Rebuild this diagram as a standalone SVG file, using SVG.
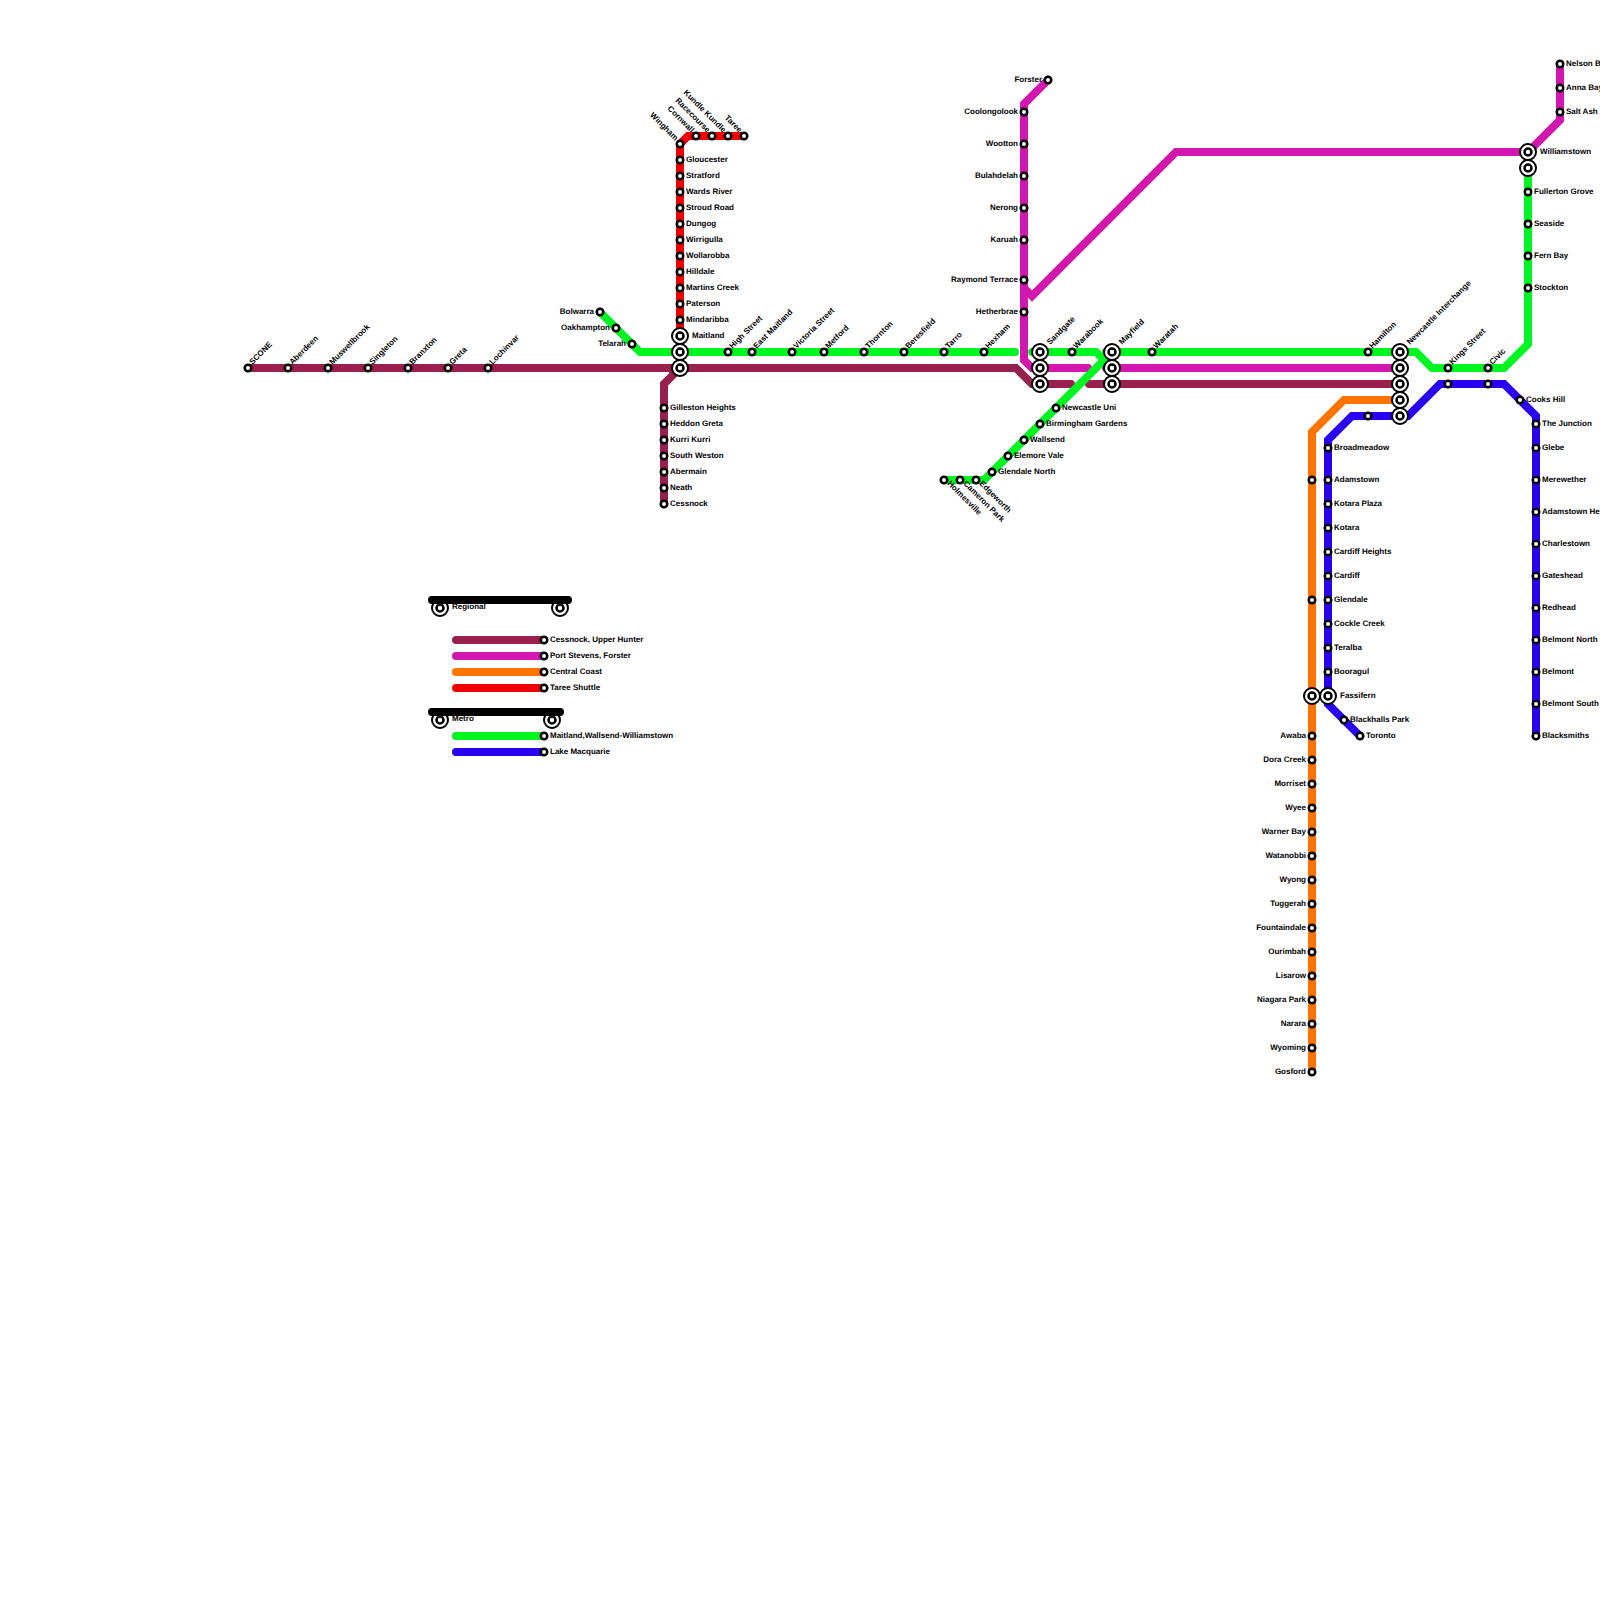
<svg xmlns="http://www.w3.org/2000/svg" width="1600" height="1600" viewBox="0 0 1600 1600">
<style>
text{font-family:"Liberation Sans",Arial,sans-serif;font-size:8px;font-weight:700;fill:#000;text-rendering:geometricPrecision}
.e{text-anchor:end}
.ln{fill:none;stroke-width:8;stroke-linejoin:miter;stroke-linecap:round}
.ma{stroke:#96214e}.mg{stroke:#d117ad}.or{stroke:#ff7300}.rd{stroke:#f00000}.gr{stroke:#00f522}.bl{stroke:#2a00f0}.bk{stroke:#000}
.o{fill:#fff;stroke:#000;stroke-width:2.5}
.c{fill:#fff;stroke:#000;stroke-width:2}
</style>
<defs>
<g id="s"><circle class="o" r="3.25"/></g>
<g id="x"><circle class="c" r="8"/><circle class="o" r="3.5"/></g>
</defs>
<rect width="1600" height="1600" fill="#fff"/>
<g id="connectors">
<path class="ln rd" d="M680 330V144L688 136H744"/>
<path class="ln ma" d="M248 368H1016L1032 384H1071"/>
<path class="ln ma" d="M1089 384H1400"/>
<path class="ln ma" d="M664 504V384L675 373L670 368"/>
<path class="ln gr" d="M600 312L640 352H1015"/>
<path class="ln mg" d="M1048 80L1024 104V360L1032 368H1088"/>
<path class="ln mg" d="M1106 368H1400"/>
<path class="ln mg" d="M1024 288L1032 296L1176 152H1528L1560 120V64"/>
<path class="ln gr" d="M1032 352H1096L1104 360L984 480H944"/>
<path class="ln gr" d="M1106 352H1416L1432 368H1504L1528 344V168"/>
<path class="ln or" d="M1400 400H1344L1312 432V1072"/>
<path class="ln bl" d="M1400 416H1352L1328 440V704L1360 736"/>
<path class="ln bl" d="M1400 416H1408L1440 384H1504L1536 416V736"/>
</g>
<g id="legend">
<path class="ln ma" d="M456 640H544"/><path class="ln mg" d="M456 656H544"/><path class="ln or" d="M456 672H544"/><path class="ln rd" d="M456 688H544"/><path class="ln gr" d="M456 736H544"/><path class="ln bl" d="M456 752H544"/>
<g id="legend-regional"><use href="#x" x="440" y="608"/><use href="#x" x="560" y="608"/><path class="ln bk" d="M432 600H568"/><text x="452" y="609">Regional</text></g>
<g id="legend-metro"><use href="#x" x="440" y="720"/><use href="#x" x="552" y="720"/><path class="ln bk" d="M432 712H560"/><text x="452" y="721">Metro</text></g>
<g id="legend-cessnock"><use href="#s" x="544" y="640"/><text x="550" y="642">Cessnock, Upper Hunter</text></g>
<g id="legend-port"><use href="#s" x="544" y="656"/><text x="550" y="658">Port Stevens, Forster</text></g>
<g id="legend-central"><use href="#s" x="544" y="672"/><text x="550" y="674">Central Coast</text></g>
<g id="legend-taree"><use href="#s" x="544" y="688"/><text x="550" y="690">Taree Shuttle</text></g>
<g id="legend-maitland"><use href="#s" x="544" y="736"/><text x="550" y="738">Maitland,Wallsend-Williamstown</text></g>
<g id="legend-lake"><use href="#s" x="544" y="752"/><text x="550" y="754">Lake Macquarie</text></g>
</g>
<g id="stations">
<g id="scone"><use href="#s" x="248" y="368"/><text transform="translate(252.5 365) rotate(-45)">SCONE</text></g>
<g id="aberdeen"><use href="#s" x="288" y="368"/><text transform="translate(292.5 365) rotate(-45)">Aberdeen</text></g>
<g id="muswellbrook"><use href="#s" x="328" y="368"/><text transform="translate(332.5 365) rotate(-45)">Muswellbrook</text></g>
<g id="singleton"><use href="#s" x="368" y="368"/><text transform="translate(372.5 365) rotate(-45)">Singleton</text></g>
<g id="branxton"><use href="#s" x="408" y="368"/><text transform="translate(412.5 365) rotate(-45)">Branxton</text></g>
<g id="greta"><use href="#s" x="448" y="368"/><text transform="translate(452.5 365) rotate(-45)">Greta</text></g>
<g id="lochinvar"><use href="#s" x="488" y="368"/><text transform="translate(492.5 365) rotate(-45)">Lochinvar</text></g>

<g id="gilleston"><use href="#s" x="664" y="408"/><text x="670" y="410">Gilleston Heights</text></g>
<g id="heddon"><use href="#s" x="664" y="424"/><text x="670" y="426">Heddon Greta</text></g>
<g id="kurri"><use href="#s" x="664" y="440"/><text x="670" y="442">Kurri Kurri</text></g>
<g id="southweston"><use href="#s" x="664" y="456"/><text x="670" y="458">South Weston</text></g>
<g id="abermain"><use href="#s" x="664" y="472"/><text x="670" y="474">Abermain</text></g>
<g id="neath"><use href="#s" x="664" y="488"/><text x="670" y="490">Neath</text></g>
<g id="cessnock"><use href="#s" x="664" y="504"/><text x="670" y="506">Cessnock</text></g>

<g id="bolwarra"><use href="#s" x="600" y="312"/><text class="e" x="594" y="314">Bolwarra</text></g>
<g id="oakhampton"><use href="#s" x="616" y="328"/><text class="e" x="610" y="330">Oakhampton</text></g>
<g id="telarah"><use href="#s" x="632" y="344"/><text class="e" x="626" y="346">Telarah</text></g>

<g id="wingham"><use href="#s" x="680" y="144"/><text class="e" transform="translate(675 141) rotate(45)">Wingham</text></g>
<g id="cornwall"><use href="#s" x="696" y="136"/><text class="e" transform="translate(691 133) rotate(45)">Cornwall</text></g>
<g id="racecourse"><use href="#s" x="712" y="136"/><text class="e" transform="translate(707 133) rotate(45)">Racecourse</text></g>
<g id="kundle"><use href="#s" x="728" y="136"/><text class="e" transform="translate(723 133) rotate(45)">Kundle Kundle</text></g>
<g id="taree"><use href="#s" x="744" y="136"/><text class="e" transform="translate(739 133) rotate(45)">Taree</text></g>
<g id="gloucester"><use href="#s" x="680" y="160"/><text x="686" y="162">Gloucester</text></g>
<g id="stratford"><use href="#s" x="680" y="176"/><text x="686" y="178">Stratford</text></g>
<g id="wardsriver"><use href="#s" x="680" y="192"/><text x="686" y="194">Wards River</text></g>
<g id="stroudroad"><use href="#s" x="680" y="208"/><text x="686" y="210">Stroud Road</text></g>
<g id="dungog"><use href="#s" x="680" y="224"/><text x="686" y="226">Dungog</text></g>
<g id="wirrigulla"><use href="#s" x="680" y="240"/><text x="686" y="242">Wirrigulla</text></g>
<g id="wollarobba"><use href="#s" x="680" y="256"/><text x="686" y="258">Wollarobba</text></g>
<g id="hilldale"><use href="#s" x="680" y="272"/><text x="686" y="274">Hilldale</text></g>
<g id="martins"><use href="#s" x="680" y="288"/><text x="686" y="290">Martins Creek</text></g>
<g id="paterson"><use href="#s" x="680" y="304"/><text x="686" y="306">Paterson</text></g>
<g id="mindaribba"><use href="#s" x="680" y="320"/><text x="686" y="322">Mindaribba</text></g>
<g id="maitland"><use href="#x" x="680" y="336"/><use href="#x" x="680" y="352"/><use href="#x" x="680" y="368"/><text x="692" y="338">Maitland</text></g>

<g id="highstreet"><use href="#s" x="728" y="352"/><text transform="translate(732.5 349) rotate(-45)">High Street</text></g>
<g id="eastmaitland"><use href="#s" x="752" y="352"/><text transform="translate(756.5 349) rotate(-45)">East Maitland</text></g>
<g id="victoria"><use href="#s" x="792" y="352"/><text transform="translate(796.5 349) rotate(-45)">Victoria Street</text></g>
<g id="metford"><use href="#s" x="824" y="352"/><text transform="translate(828.5 349) rotate(-45)">Metford</text></g>
<g id="thornton"><use href="#s" x="864" y="352"/><text transform="translate(868.5 349) rotate(-45)">Thornton</text></g>
<g id="beresfield"><use href="#s" x="904" y="352"/><text transform="translate(908.5 349) rotate(-45)">Beresfield</text></g>
<g id="tarro"><use href="#s" x="944" y="352"/><text transform="translate(948.5 349) rotate(-45)">Tarro</text></g>
<g id="hexham"><use href="#s" x="984" y="352"/><text transform="translate(988.5 349) rotate(-45)">Hexham</text></g>

<g id="forster"><use href="#s" x="1048" y="80"/><text class="e" x="1042" y="82">Forster</text></g>
<g id="coolongolook"><use href="#s" x="1024" y="112"/><text class="e" x="1018" y="114">Coolongolook</text></g>
<g id="wootton"><use href="#s" x="1024" y="144"/><text class="e" x="1018" y="146">Wootton</text></g>
<g id="bulahdelah"><use href="#s" x="1024" y="176"/><text class="e" x="1018" y="178">Bulahdelah</text></g>
<g id="nerong"><use href="#s" x="1024" y="208"/><text class="e" x="1018" y="210">Nerong</text></g>
<g id="karuah"><use href="#s" x="1024" y="240"/><text class="e" x="1018" y="242">Karuah</text></g>
<g id="raymond"><use href="#s" x="1024" y="280"/><text class="e" x="1018" y="282">Raymond Terrace</text></g>
<g id="hetherbrae"><use href="#s" x="1024" y="312"/><text class="e" x="1018" y="314">Hetherbrae</text></g>

<g id="sandgate"><use href="#x" x="1040" y="352"/><use href="#x" x="1040" y="368"/><use href="#x" x="1040" y="384"/><text transform="translate(1050 345) rotate(-45)">Sandgate</text></g>
<g id="warabook"><use href="#s" x="1072" y="352"/><text transform="translate(1076.5 349) rotate(-45)">Warabook</text></g>
<g id="mayfield"><use href="#x" x="1112" y="352"/><use href="#x" x="1112" y="368"/><use href="#x" x="1112" y="384"/><text transform="translate(1122 345) rotate(-45)">Mayfield</text></g>
<g id="waratah"><use href="#s" x="1152" y="352"/><text transform="translate(1156.5 349) rotate(-45)">Waratah</text></g>
<g id="newcastleuni"><use href="#s" x="1056" y="408"/><text x="1062" y="410">Newcastle Uni</text></g>
<g id="birmingham"><use href="#s" x="1040" y="424"/><text x="1046" y="426">Birmingham Gardens</text></g>
<g id="wallsend"><use href="#s" x="1024" y="440"/><text x="1030" y="442">Wallsend</text></g>
<g id="elemore"><use href="#s" x="1008" y="456"/><text x="1014" y="458">Elemore Vale</text></g>
<g id="glendalenorth"><use href="#s" x="992" y="472"/><text x="998" y="474">Glendale North</text></g>
<g id="holmesville"><use href="#s" x="944" y="480"/><text transform="translate(947 484) rotate(45)">Holmesville</text></g>
<g id="cameron"><use href="#s" x="960" y="480"/><text transform="translate(963 484) rotate(45)">Cameron Park</text></g>
<g id="edgeworth"><use href="#s" x="976" y="480"/><text transform="translate(979 484) rotate(45)">Edgeworth</text></g>

<g id="hamilton"><use href="#s" x="1368" y="352"/><text transform="translate(1372.5 349) rotate(-45)">Hamilton</text></g>
<g id="newcastle"><use href="#x" x="1400" y="352"/><use href="#x" x="1400" y="368"/><use href="#x" x="1400" y="384"/><use href="#x" x="1400" y="400"/><use href="#x" x="1400" y="416"/><text transform="translate(1410 345) rotate(-45)">Newcastle Interchange</text></g>
<g id="unnamed-1"><use href="#s" x="1368" y="416"/></g>
<g id="kings"><use href="#s" x="1448" y="368"/><use href="#s" x="1448" y="384"/><text transform="translate(1452.5 365) rotate(-45)">Kings Street</text></g>
<g id="civic"><use href="#s" x="1488" y="368"/><use href="#s" x="1488" y="384"/><text transform="translate(1492.5 365) rotate(-45)">Civic</text></g>

<g id="williamstown"><use href="#x" x="1528" y="152"/><use href="#x" x="1528" y="168"/><text x="1540" y="154">Williamstown</text></g>
<g id="nelson"><use href="#s" x="1560" y="64"/><text x="1566" y="66">Nelson Bay</text></g>
<g id="annabay"><use href="#s" x="1560" y="88"/><text x="1566" y="90">Anna Bay</text></g>
<g id="saltash"><use href="#s" x="1560" y="112"/><text x="1566" y="114">Salt Ash</text></g>
<g id="fullerton"><use href="#s" x="1528" y="192"/><text x="1534" y="194">Fullerton Grove</text></g>
<g id="seaside"><use href="#s" x="1528" y="224"/><text x="1534" y="226">Seaside</text></g>
<g id="fernbay"><use href="#s" x="1528" y="256"/><text x="1534" y="258">Fern Bay</text></g>
<g id="stockton"><use href="#s" x="1528" y="288"/><text x="1534" y="290">Stockton</text></g>

<g id="cookshill"><use href="#s" x="1520" y="400"/><text x="1526" y="402">Cooks Hill</text></g>
<g id="junction"><use href="#s" x="1536" y="424"/><text x="1542" y="426">The Junction</text></g>
<g id="glebe"><use href="#s" x="1536" y="448"/><text x="1542" y="450">Glebe</text></g>
<g id="merewether"><use href="#s" x="1536" y="480"/><text x="1542" y="482">Merewether</text></g>
<g id="adamstownheights"><use href="#s" x="1536" y="512"/><text x="1542" y="514">Adamstown Heights</text></g>
<g id="charlestown"><use href="#s" x="1536" y="544"/><text x="1542" y="546">Charlestown</text></g>
<g id="gateshead"><use href="#s" x="1536" y="576"/><text x="1542" y="578">Gateshead</text></g>
<g id="redhead"><use href="#s" x="1536" y="608"/><text x="1542" y="610">Redhead</text></g>
<g id="belmontnorth"><use href="#s" x="1536" y="640"/><text x="1542" y="642">Belmont North</text></g>
<g id="belmont"><use href="#s" x="1536" y="672"/><text x="1542" y="674">Belmont</text></g>
<g id="belmontsouth"><use href="#s" x="1536" y="704"/><text x="1542" y="706">Belmont South</text></g>
<g id="blacksmiths"><use href="#s" x="1536" y="736"/><text x="1542" y="738">Blacksmiths</text></g>

<g id="broadmeadow"><use href="#s" x="1328" y="448"/><text x="1334" y="450">Broadmeadow</text></g>
<g id="adamstown"><use href="#s" x="1328" y="480"/><text x="1334" y="482">Adamstown</text></g>
<g id="kotaraplaza"><use href="#s" x="1328" y="504"/><text x="1334" y="506">Kotara Plaza</text></g>
<g id="kotara"><use href="#s" x="1328" y="528"/><text x="1334" y="530">Kotara</text></g>
<g id="cardiffheights"><use href="#s" x="1328" y="552"/><text x="1334" y="554">Cardiff Heights</text></g>
<g id="cardiff"><use href="#s" x="1328" y="576"/><text x="1334" y="578">Cardiff</text></g>
<g id="glendale"><use href="#s" x="1328" y="600"/><text x="1334" y="602">Glendale</text></g>
<g id="cockle"><use href="#s" x="1328" y="624"/><text x="1334" y="626">Cockle Creek</text></g>
<g id="teralba"><use href="#s" x="1328" y="648"/><text x="1334" y="650">Teralba</text></g>
<g id="booragul"><use href="#s" x="1328" y="672"/><text x="1334" y="674">Booragul</text></g>
<g id="fassifern"><use href="#x" x="1312" y="696"/><use href="#x" x="1328" y="696"/><text x="1340" y="698">Fassifern</text></g>
<g id="blackhalls"><use href="#s" x="1344" y="720"/><text x="1350" y="722">Blackhalls Park</text></g>
<g id="toronto"><use href="#s" x="1360" y="736"/><text x="1366" y="738">Toronto</text></g>

<g id="unnamed-2"><use href="#s" x="1312" y="480"/></g>
<g id="unnamed-3"><use href="#s" x="1312" y="600"/></g>
<g id="awaba"><use href="#s" x="1312" y="736"/><text class="e" x="1306" y="738">Awaba</text></g>
<g id="doracreek"><use href="#s" x="1312" y="760"/><text class="e" x="1306" y="762">Dora Creek</text></g>
<g id="morriset"><use href="#s" x="1312" y="784"/><text class="e" x="1306" y="786">Morriset</text></g>
<g id="wyee"><use href="#s" x="1312" y="808"/><text class="e" x="1306" y="810">Wyee</text></g>
<g id="warnerbay"><use href="#s" x="1312" y="832"/><text class="e" x="1306" y="834">Warner Bay</text></g>
<g id="watanobbi"><use href="#s" x="1312" y="856"/><text class="e" x="1306" y="858">Watanobbi</text></g>
<g id="wyong"><use href="#s" x="1312" y="880"/><text class="e" x="1306" y="882">Wyong</text></g>
<g id="tuggerah"><use href="#s" x="1312" y="904"/><text class="e" x="1306" y="906">Tuggerah</text></g>
<g id="fountaindale"><use href="#s" x="1312" y="928"/><text class="e" x="1306" y="930">Fountaindale</text></g>
<g id="ourimbah"><use href="#s" x="1312" y="952"/><text class="e" x="1306" y="954">Ourimbah</text></g>
<g id="lisarow"><use href="#s" x="1312" y="976"/><text class="e" x="1306" y="978">Lisarow</text></g>
<g id="niagara"><use href="#s" x="1312" y="1000"/><text class="e" x="1306" y="1002">Niagara Park</text></g>
<g id="narara"><use href="#s" x="1312" y="1024"/><text class="e" x="1306" y="1026">Narara</text></g>
<g id="wyoming"><use href="#s" x="1312" y="1048"/><text class="e" x="1306" y="1050">Wyoming</text></g>
<g id="gosford"><use href="#s" x="1312" y="1072"/><text class="e" x="1306" y="1074">Gosford</text></g>
</g>
</svg>
